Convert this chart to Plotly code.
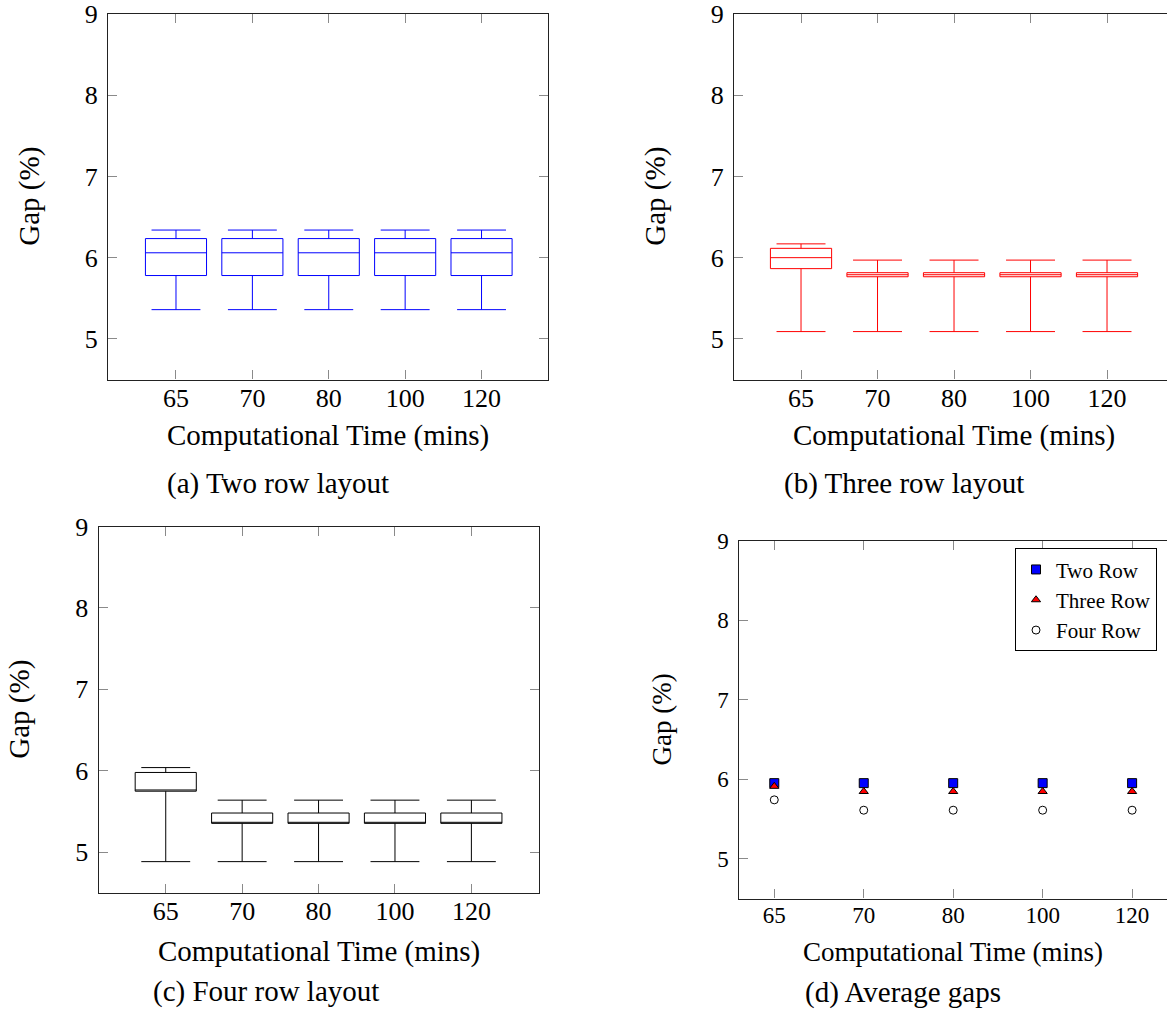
import plotly.graph_objects as go

W, H = 1167, 1014

# ---------------- data ----------------
times = ["65", "70", "80", "100", "120"]

# (a) Two row layout
two_low = [5.36, 5.36, 5.36, 5.36, 5.36]
two_q1 = [5.78, 5.78, 5.78, 5.78, 5.78]
two_med = [6.06, 6.06, 6.06, 6.06, 6.06]
two_q3 = [6.235, 6.235, 6.235, 6.235, 6.235]
two_high = [6.34, 6.34, 6.34, 6.34, 6.34]

# (b) Three row layout
three_low = [5.09, 5.09, 5.09, 5.09, 5.09]
three_q1 = [5.865, 5.765, 5.765, 5.765, 5.765]
three_med = [6.0, 5.79, 5.79, 5.79, 5.79]
three_q3 = [6.115, 5.815, 5.815, 5.815, 5.815]
three_high = [6.17, 5.97, 5.97, 5.97, 5.97]

# (c) Four row layout
four_low = [4.885, 4.885, 4.885, 4.885, 4.885]
four_q1 = [5.75, 5.355, 5.355, 5.355, 5.355]
four_med = [5.765, 5.368, 5.368, 5.368, 5.368]
four_q3 = [5.98, 5.482, 5.482, 5.482, 5.482]
four_high = [6.04, 5.64, 5.64, 5.64, 5.64]

# (d) Average gaps
avg_two = [5.95, 5.95, 5.95, 5.95, 5.95]
avg_three = [5.91, 5.845, 5.845, 5.845, 5.845]
avg_four = [5.74, 5.61, 5.61, 5.61, 5.61]

y_ticks = [5, 6, 7, 8, 9]
x_label = "Computational Time (mins)"
y_label = "Gap (%)"
captions = ["(a) Two row layout", "(b) Three row layout",
            "(c) Four row layout", "(d) Average gaps"]

FONT = "Liberation Serif"


def px_x(p):
    return p / W


def px_y(p):
    return 1 - p / H


# panel geometry in page pixels: (left, right, top, bottom), x range
panels = {
    "a": dict(box=(108, 548, 14, 379.5), xr=[-0.89, 4.87], ymirror="ticks",
              tfs=26, lfs=29, xstand=-5, ystand=4),
    "b": dict(box=(734, 1167, 14, 379.5), xr=[-0.876, 4.784], ymirror=False,
              tfs=26, lfs=29, xstand=-5, ystand=4),
    "c": dict(box=(98.5, 539, 526.5, 893), xr=[-0.88, 4.885], ymirror="ticks",
              tfs=26, lfs=29, xstand=-5, ystand=4),
    "d": dict(box=(738.5, 1167, 540.5, 898.5), xr=[-0.4, 4.39], ymirror=False,
              tfs=23, lfs=27, xstand=-4, ystand=4),
}

fig = go.Figure()


def add_box(ax, low, q1, med, q3, high, color):
    fig.add_trace(go.Box(
        x=times, lowerfence=low, q1=q1, median=med, q3=q3, upperfence=high,
        xaxis="x" + ax, yaxis="y" + ax,
        line=dict(color=color, width=1), fillcolor="rgba(255,255,255,0)",
        width=0.8, whiskerwidth=0.8, boxpoints=False, showlegend=False,
        hoverinfo="skip",
    ))


add_box("", two_low, two_q1, two_med, two_q3, two_high, "#0000ff")
add_box("2", three_low, three_q1, three_med, three_q3, three_high, "#ff0000")
add_box("3", four_low, four_q1, four_med, four_q3, four_high, "#000000")

fig.add_trace(go.Scatter(
    x=times, y=avg_two, mode="markers", name="Two Row", xaxis="x4", yaxis="y4",
    marker=dict(symbol="square", size=9, color="#0000ff", line=dict(color="#000000", width=1)),
))
fig.add_trace(go.Scatter(
    x=times, y=avg_three, mode="markers", name="Three Row", xaxis="x4", yaxis="y4",
    marker=dict(symbol="triangle-up", size=8, color="#ff0000", line=dict(color="#000000", width=1)),
))
fig.add_trace(go.Scatter(
    x=times, y=avg_four, mode="markers", name="Four Row", xaxis="x4", yaxis="y4",
    marker=dict(symbol="circle", size=8, color="#ffffff", line=dict(color="#000000", width=1)),
))

layout = dict(
    width=W, height=H, margin=dict(l=0, r=0, t=0, b=0, pad=0, autoexpand=False),
    paper_bgcolor="white", plot_bgcolor="white",
    font=dict(family=FONT, size=26, color="black"),
    showlegend=True,
    legend=dict(
        x=px_x(1157), y=px_y(548.3), xanchor="right", yanchor="top",
        bordercolor="black", borderwidth=1, bgcolor="white",
        font=dict(family=FONT, size=21), tracegroupgap=0, itemwidth=30,
    ),
)

annotations = []
names = ["a", "b", "c", "d"]
caption_pos = [(277.5, 483), (904, 483), (266, 991), (903, 992)]
ytitle_x = [30, 656, 20, 661]
xtitle_y = [435, 435, 951, 952]
xtitle_x = [328, 954, 318.5, 953]
for i, k in enumerate(names):
    p = panels[k]
    l, r, t, b = p["box"]
    suffix = "" if i == 0 else str(i + 1)
    common = dict(
        showline=True, linecolor="#222222", linewidth=1.2,
        ticks="inside", ticklen=9, tickcolor="#8a8a8a", tickwidth=1,
        showgrid=False, zeroline=False, automargin=False,
        ticklabeloverflow="allow",
        tickfont=dict(family=FONT, size=p["tfs"]),
    )
    layout["xaxis" + suffix] = dict(
        common, domain=[px_x(l), px_x(r)], anchor="y" + suffix,
        type="category", categoryorder="array", categoryarray=times,
        range=p["xr"], mirror="ticks", ticklabelstandoff=p["xstand"],
    )
    layout["yaxis" + suffix] = dict(
        common, domain=[px_y(b), px_y(t)], anchor="x" + suffix,
        range=[4.5, 9], tickvals=y_ticks, mirror=p["ymirror"],
        ticklabelstandoff=p["ystand"],
    )
    annotations.append(dict(
        text=x_label, x=px_x(xtitle_x[i]), y=px_y(xtitle_y[i]), xref="paper", yref="paper",
        xanchor="center", yanchor="middle", showarrow=False,
        font=dict(family=FONT, size=p["lfs"]),
    ))
    annotations.append(dict(
        text=y_label, x=px_x(ytitle_x[i]), y=px_y((t + b) / 2), xref="paper", yref="paper",
        xanchor="center", yanchor="middle", showarrow=False, textangle=-90,
        font=dict(family=FONT, size=p["lfs"]),
    ))
    annotations.append(dict(
        text=captions[i], x=px_x(caption_pos[i][0]), y=px_y(caption_pos[i][1]),
        xref="paper", yref="paper", xanchor="center", yanchor="middle",
        showarrow=False, font=dict(family=FONT, size=29),
    ))

layout["annotations"] = annotations
fig.update_layout(**layout)
fig.write_html("out.html", config={"displayModeBar": False},
               post_script="document.body.style.margin = '0';")
